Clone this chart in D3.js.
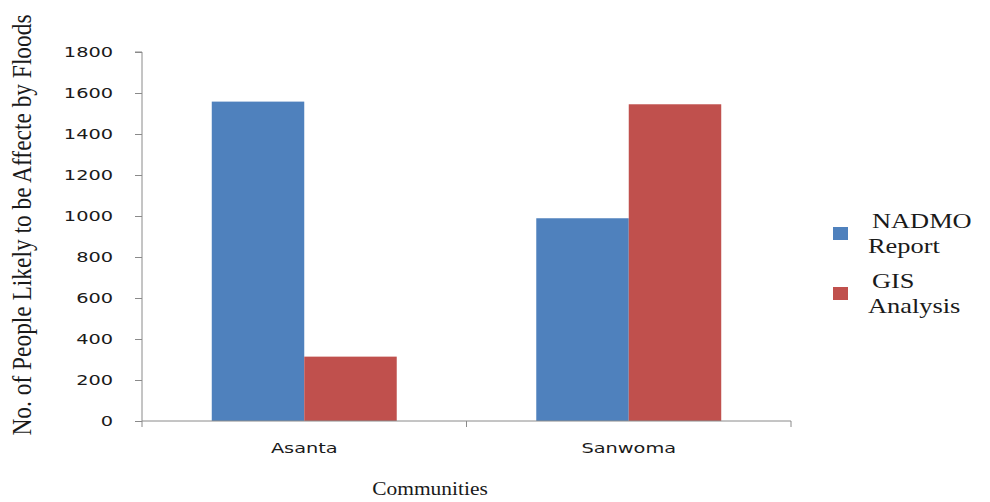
<!DOCTYPE html>
<html>
<head>
<meta charset="utf-8">
<script src="https://cdn.jsdelivr.net/npm/d3@7"></script>
<style>
  html, body { margin: 0; padding: 0; background: #fff; }
  svg { display: block; }
</style>
</head>
<body>
<svg id="chart" width="990" height="502"></svg>
<script>
// Flood exposure estimates per community
const communities = ["Asanta", "Sanwoma"];
const seriesNames = ["NADMO Report", "GIS Analysis"];
const legendLines = [["NADMO", "Report"], ["GIS", "Analysis"]];
const nadmoReport = [1558, 989];
const gisAnalysis = [314, 1545];
const yTicks = [0, 200, 400, 600, 800, 1000, 1200, 1400, 1600, 1800];
const colors = ["#4F81BD", "#C0504D"];

const seriesValues = [nadmoReport, gisAnalysis];
const rows = communities.map((c, i) => ({
  community: c,
  values: seriesNames.map((s, j) => ({ series: s, idx: j, value: seriesValues[j][i] }))
}));

const svg = d3.select("#chart");
const plotLeft = 142, plotRight = 791, plotTop = 52, plotBottom = 421;
const axisColor = "#8a8a8a";

const y = d3.scaleLinear().domain([0, 1800]).range([plotBottom, plotTop]);
const x0 = d3.scaleBand().domain(communities).range([plotLeft, plotRight])
  .paddingInner(0.43).paddingOuter(0.215);
const x1 = d3.scaleBand().domain(seriesNames).range([0, x0.bandwidth()]);

// Bars
const groups = svg.append("g").selectAll("g").data(rows).join("g")
  .attr("transform", d => `translate(${x0(d.community)},0)`);
groups.selectAll("rect").data(d => d.values).join("rect")
  .attr("x", d => x1(d.series))
  .attr("width", x1.bandwidth())
  .attr("y", d => y(d.value))
  .attr("height", d => y(0) - y(d.value))
  .attr("fill", d => colors[d.idx]);

// Y axis
const yAxis = svg.append("g")
  .attr("transform", `translate(${plotLeft},0)`)
  .call(d3.axisLeft(y).tickValues(yTicks).tickSize(7).tickPadding(0).tickFormat(d3.format("d")));
yAxis.select(".domain").attr("stroke", axisColor).attr("d", `M-7,${plotTop}H0V${plotBottom}`);
yAxis.selectAll(".tick line").attr("stroke", axisColor);
yAxis.selectAll(".tick text")
  .attr("font-family", "'DejaVu Sans', Verdana, sans-serif")
  .attr("font-size", 14)
  .attr("fill", "#1a1a1a")
  .attr("x", null)
  .attr("text-anchor", "end")
  .attr("transform", "translate(-29,0) scale(1.38,1)");

// X axis with category boundary ticks
const xg = svg.append("g");
xg.append("line").attr("x1", plotLeft).attr("x2", plotRight).attr("y1", plotBottom).attr("y2", plotBottom)
  .attr("stroke", axisColor);
const step = x0.step();
const bounds = d3.range(communities.length + 1).map(i => plotLeft + i * step);
xg.selectAll("line.tk").data(bounds).join("line").attr("class", "tk")
  .attr("x1", d => d).attr("x2", d => d)
  .attr("y1", plotBottom).attr("y2", plotBottom + 6)
  .attr("stroke", axisColor);
xg.selectAll("text").data(communities).join("text")
  .attr("transform", d => `translate(${x0(d) + x0.bandwidth() / 2},453) scale(1.38,1)`)
  .attr("text-anchor", "middle")
  .attr("font-family", "'DejaVu Sans', Verdana, sans-serif")
  .attr("font-size", 14)
  .attr("fill", "#1a1a1a")
  .text(d => d);

// Axis titles
svg.append("text")
  .attr("transform", "translate(430,495) scale(1.1,1)")
  .attr("text-anchor", "middle")
  .attr("font-family", "'Liberation Serif', 'Times New Roman', serif")
  .attr("font-size", 19.5)
  .attr("fill", "#1a1a1a")
  .text("Communities");

svg.append("text")
  .attr("transform", "translate(31,225) rotate(-90) scale(1,1.18)")
  .attr("text-anchor", "middle")
  .attr("font-family", "'Liberation Serif', 'Times New Roman', serif")
  .attr("font-size", 23.4)
  .attr("fill", "#1a1a1a")
  .text("No. of People Likely to be Affecte by Floods");

// Legend
const legend = svg.append("g");
const legendItems = legend.selectAll("g").data(seriesNames).join("g")
  .attr("transform", (d, i) => `translate(833,${227 + i * 60})`);
legendItems.append("rect")
  .attr("width", 15).attr("height", 13)
  .attr("fill", (d, i) => colors[i]);
legendItems.each(function(d, i) {
  const g = d3.select(this);
  legendLines[i].forEach((line, k) => {
    g.append("text")
      .attr("transform", `translate(${k === 0 ? 39 : 35},${1 + k * 25}) scale(1.2,1)`)
      .attr("font-family", "'Liberation Serif', 'Times New Roman', serif")
      .attr("font-size", 22)
      .attr("fill", "#1a1a1a")
      .text(line);
  });
});
</script>
</body>
</html>
